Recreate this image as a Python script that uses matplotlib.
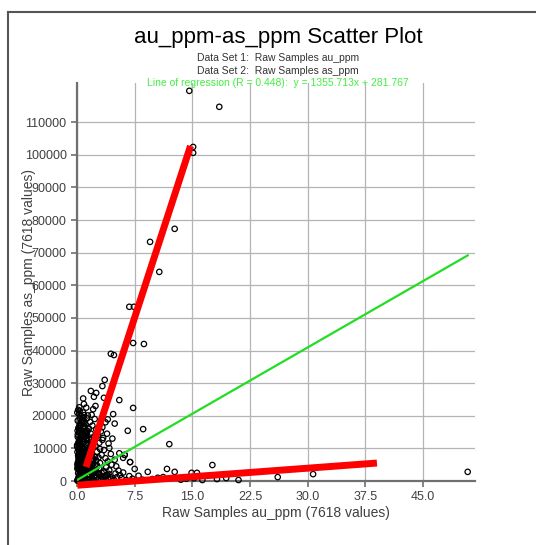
import matplotlib
matplotlib.use("Agg")
import matplotlib.pyplot as plt
from matplotlib.lines import Line2D

plt.rcParams['font.family'] = ['Liberation Sans', 'DejaVu Sans']

# Data: au_ppm on x, as_ppm on y
au_ppm = [
    0.1, 0.2, 0.3, 0.15, 0.4, 0.25, 0.5, 0.1, 0.35, 0.2, 0.6, 0.3, 0.15, 0.5, 0.25, 0.4, 0.1, 0.6, 0.3, 0.2, 0.5, 0.1, 0.4, 0.3,
    0.7, 0.8, 0.9, 0.75, 1.0, 0.85, 1.1, 0.7, 0.95, 1.2, 0.8, 1.05, 0.7, 1.15, 0.9, 1.3, 0.75, 1.0, 1.25, 0.85, 1.1, 0.95, 1.3, 0.8, 1.2, 0.9, 1.4,
    1.4, 1.6, 1.5, 1.8, 1.45, 1.7, 1.9, 1.55, 2.0, 1.65, 1.85, 1.5, 2.1, 1.75, 1.95, 1.6, 2.2, 1.8, 1.5, 2.0, 1.7, 2.3, 1.9, 2.1, 2.4,
    2.2, 2.5, 2.3, 2.7, 2.4, 2.9, 2.6, 3.0, 2.5, 2.8, 3.2, 2.6, 3.0, 2.4, 2.9, 3.3, 2.7, 3.1, 2.5,
    3.4, 3.6, 3.9, 3.5, 4.2, 3.8, 4.5, 4.0, 3.7, 4.4, 3.5, 4.1, 4.6, 3.9, 3.3, 3.7,
    4.8, 5.2, 5.0, 5.6, 5.4, 6.0, 5.8, 6.4, 6.8, 5.1, 4.9, 5.5, 6.2, 6.9, 7.5, 7.2, 8.0, 8.5, 9.2, 9.8, 10.5, 11.2, 11.7,
    12.0, 12.7, 13.5, 14.2, 14.9, 15.6, 15.2, 16.3, 17.6, 18.2, 19.4, 21.0, 26.1, 30.7, 50.8,
    0.8, 1.8, 2.5, 2.2, 3.5, 5.5, 3.3, 3.6, 4.4, 4.8, 6.8, 7.4, 7.3, 8.7, 7.3, 4.7, 4.9, 4.0, 6.6, 8.6, 4.2, 6.2, 6.0, 6.9, 3.4,
    9.5, 10.7, 12.7, 14.6, 15.1, 15.1, 18.5,
    # dense core near the origin
    0.05, 0.12, 0.22, 0.33, 0.45, 0.55, 0.65, 0.05, 0.18, 0.28, 0.42, 0.58, 0.72, 0.88, 0.02, 0.14, 0.26, 0.38, 0.52, 0.66,
    0.08, 0.2, 0.34, 0.48, 0.62, 0.78, 0.92, 0.04, 0.16, 0.3, 0.44, 0.6, 0.76, 1.02, 0.1, 0.24, 0.4, 0.56, 0.7, 0.86,
    0.06, 0.18, 0.32, 0.46, 0.64, 0.82, 1.0, 1.18, 1.36, 1.54, 0.12, 0.28, 0.44, 0.62, 0.8, 0.98, 1.16, 1.34, 0.2, 0.38,
    0.56, 0.74, 0.92, 1.1, 0.05, 0.25, 0.45, 0.65, 0.85, 0.15, 0.35, 0.55, 0.75, 0.02, 0.22, 0.42, 0.62, 0.1, 0.3, 0.5,
    1.05, 1.25, 1.45, 1.65, 1.85, 2.05, 1.15, 1.35, 1.55, 1.75, 1.95, 2.15, 2.35, 0.95, 1.2, 1.4, 1.6, 1.8, 2.6, 2.8,
    1.6, 1.9, 2.2, 2.5, 2.8, 3.1, 3.4, 3.7, 4.0, 4.3, 1.7, 2.0, 2.3, 2.6, 2.9, 3.2, 3.5, 3.8, 4.1, 4.4,
    0.9, 1.1, 1.3, 1.5, 1.7, 1.9, 2.1, 0.6, 0.8, 1.0, 1.2, 1.4, 1.6, 1.8, 0.35, 0.55, 0.75, 0.95, 1.15, 1.35,
]
as_ppm = [
    300, 900, 1600, 2400, 3100, 4000, 4800, 5600, 6400, 7300, 8100, 9000, 9900, 10800, 11700, 12600, 13500, 14400, 15300, 16200, 17100, 18500, 19300, 20500,
    500, 1300, 2100, 2900, 3700, 4500, 5300, 6100, 6900, 7700, 8600, 9400, 10300, 11100, 12000, 12800, 13700, 14600, 15500, 16400, 17400, 18300, 19200, 21000, 22500, 23600, 20100,
    400, 1200, 2000, 2700, 3500, 4300, 5000, 5900, 6800, 7600, 8500, 9300, 10200, 11000, 11900, 12700, 13600, 14500, 16000, 17000, 18100, 19000, 20300, 22000, 23000,
    300, 900, 1700, 2400, 3300, 4000, 4800, 5500, 6300, 7200, 8000, 9000, 9800, 10800, 11700, 12600, 14000, 15200, 15800,
    300, 1100, 1900, 2600, 3300, 4200, 5000, 6000, 7000, 8300, 9500, 11500, 13000, 14500, 16500, 18000,
    400, 1200, 2300, 1800, 3200, 2600, 900, 300, 1500, 4500, 6500, 8500, 8000, 5800, 3700, 700, 1600, 400, 2800, 600, 1000, 1200, 3700,
    11300, 2800, 400, 700, 2500, 2500, 800, 300, 4900, 600, 900, 300, 1200, 2100, 2800,
    25300, 27600, 27000, 25800, 25500, 24800, 29100, 31000, 39000, 38600, 53400, 53400, 42300, 42000, 22400, 20500, 17600, 18900, 15400, 15900, 10100, 8000, 7100, 5800, 13200,
    73300, 64100, 77300, 119600, 102400, 100600, 114700,
    # dense core near the origin
    100, 600, 1100, 1900, 2600, 3400, 4200, 5000, 5800, 6600, 7400, 8200, 9000, 9800, 10600, 11400, 12200, 13000, 13800, 14600,
    15400, 16200, 17000, 17800, 18600, 19400, 20200, 21000, 21800, 22600, 900, 1700, 2500, 3300, 4100, 4900, 5700, 6500, 7300, 8100,
    8900, 9700, 10500, 11300, 12100, 12900, 13700, 14500, 15300, 16100, 200, 1000, 1800, 2600, 3400, 4200, 5000, 5800, 6600, 7400,
    600, 1400, 2200, 3000, 3800, 4600, 5400, 6200, 7000, 7800, 8600, 9400, 10200, 11000, 11800, 12600, 13400, 14200, 15000, 15800,
    200, 700, 1300, 1900, 2500, 3100, 3700, 4300, 4900, 5500, 6100, 6700, 7300, 7900, 8500, 9100, 9700, 10300, 1100, 2300,
    500, 900, 1300, 1700, 2100, 600, 1000, 1400, 800, 1200, 2900, 3400, 3900, 4400, 2000, 2500, 3000, 1600, 2200, 500,
    16800, 15000, 13200, 11400, 9600, 7800, 6000, 18000, 16300, 14800, 13100, 11600, 10100, 8600, 21500, 19900, 18300, 16800, 15300, 13900,
]

slope = 1355.713
intercept = 281.767
reg_x = [0.0, 50.8]

# hand-drawn red marks (start/end in data units)
red1_x = [1.17, 14.76]
red1_y = [4300, 102700]
red2_x = [0.05, 39.0]
red2_y = [-1300, 5500]

x_ticks = [0.0, 7.5, 15.0, 22.5, 30.0, 37.5, 45.0]
y_ticks = list(range(0, 110001, 10000))

fig = plt.figure(figsize=(5.36, 5.45), dpi=100)
ax = fig.add_axes([77 / 536, 1 - 481 / 545, 398 / 536, 398 / 545])

ax.grid(True, color="#b4b4b4", linewidth=0.9)
ax.set_axisbelow(True)

ax.scatter(au_ppm, as_ppm, s=15, facecolors="none", edgecolors="black",
           linewidths=0.9, clip_on=False, zorder=3)

reg_y = [slope * v + intercept for v in reg_x]
ax.plot(reg_x, reg_y, color="#22dd22", linewidth=1.6, zorder=4)

ax.plot(red1_x, red1_y, color="red", linewidth=5, solid_capstyle="butt", clip_on=False, zorder=5)
ax.plot(red2_x, red2_y, color="red", linewidth=5, solid_capstyle="butt", clip_on=False, zorder=5)

ax.set_xlim(0, 51.75)
ax.set_ylim(0, 122000)
ax.set_xticks(x_ticks)
ax.set_xticklabels([f"{t:.1f}" for t in x_ticks])
ax.set_yticks(y_ticks)
ax.set_yticklabels([str(t) for t in y_ticks])
ax.tick_params(colors="#707070", labelcolor="#404040", labelsize=9, length=4, width=1.2)

for s in ["top", "right"]:
    ax.spines[s].set_visible(False)
for s in ["left", "bottom"]:
    ax.spines[s].set_color("#707070")
    ax.spines[s].set_linewidth(1.6)

ax.set_xlabel("Raw Samples au_ppm (7618 values)", fontsize=10, color="#404040")
ax.set_ylabel("Raw Samples as_ppm (7618 values)", fontsize=10, color="#404040")
ax.xaxis.set_label_coords(0.5, -0.063)
# the reference draws the y label on top of the tick labels
ax.yaxis.set_label_coords(-0.103, 0.5)

cx = 278 / 536
fig.text(cx, 1 - 38 / 545, "au_ppm-as_ppm Scatter Plot", ha="center", va="center", fontsize=16)
fig.text(cx, 1 - 58 / 545, "Data Set 1:  Raw Samples au_ppm", ha="center", va="center", fontsize=7.5, color="#333333")
fig.text(cx, 1 - 71 / 545, "Data Set 2:  Raw Samples as_ppm", ha="center", va="center", fontsize=7.5, color="#333333")
fig.text(cx, 1 - 83 / 545,
         f"Line of regression (R = 0.448):  y = {slope}x + {intercept}",
         ha="center", va="center", fontsize=7.5, color="#44ee44")

# outer frame (top and left edges)
fig.add_artist(Line2D([8 / 536, 8 / 536], [0, 1 - 12 / 545], color="#555555", linewidth=1.5))
fig.add_artist(Line2D([8 / 536, 1], [1 - 12 / 545, 1 - 12 / 545], color="#555555", linewidth=1.5))

fig.savefig("out.png", dpi=100)
